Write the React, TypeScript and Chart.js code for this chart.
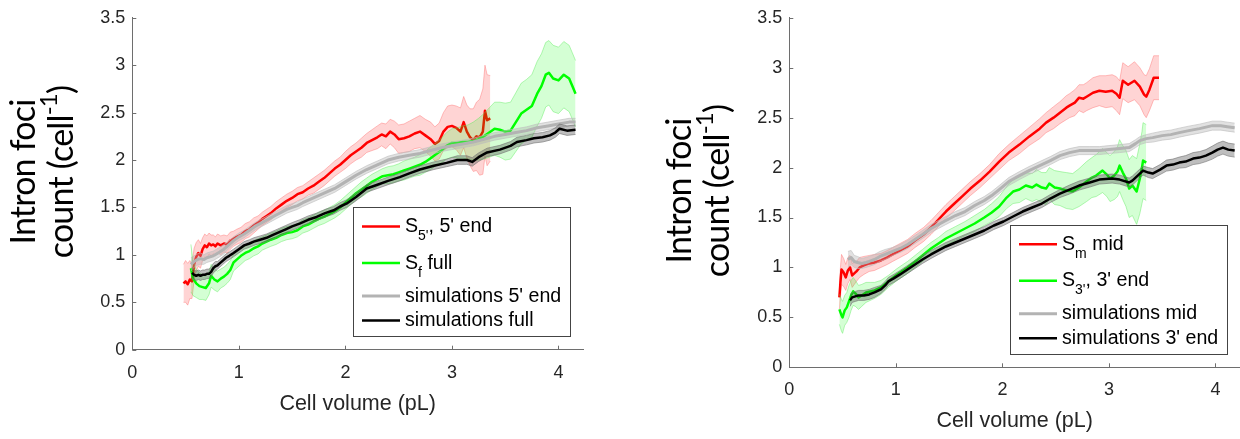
import React, { useEffect, useRef } from 'react';
import { Chart, registerables } from 'chart.js';
Chart.register(...registerables);

// ---------------- Left panel data ----------------
const L_RED_X = [0.48,0.50,0.52,0.54,0.56,0.58,0.60,0.62,0.64,0.66, 0.68,0.70,0.72,0.74,0.76,0.78,0.80,0.83,0.86,0.89, 0.92,0.95,0.98,1.02,1.06,1.10,1.14,1.18,1.22,1.26, 1.30,1.35,1.40,1.45,1.50,1.55,1.60,1.65,1.70,1.75, 1.80,1.85,1.90,1.95,2.00,2.05,2.10,2.15,2.20,2.25, 2.30,2.34,2.38,2.42,2.46,2.50,2.55,2.60,2.65,2.70, 2.75,2.80,2.84,2.88,2.92,2.96,3.00,3.04,3.08,3.11, 3.14,3.17,3.20,3.23,3.26,3.29,3.31,3.33,3.36];
const L_RED_Y = [0.70,0.72,0.69,0.74,0.72,0.90,0.98,1.02,0.99,1.06, 1.10,1.08,1.12,1.10,1.11,1.09,1.12,1.10,1.12,1.11, 1.15,1.17,1.19,1.21,1.25,1.27,1.31,1.34,1.38,1.41, 1.44,1.49,1.53,1.57,1.60,1.64,1.66,1.70,1.73,1.77, 1.81,1.86,1.91,1.95,2.00,2.05,2.09,2.13,2.18,2.21, 2.24,2.27,2.25,2.30,2.27,2.22,2.23,2.25,2.28,2.30, 2.26,2.22,2.17,2.20,2.30,2.35,2.36,2.34,2.30,2.40, 2.30,2.24,2.21,2.25,2.24,2.30,2.52,2.42,2.44];
const L_RED_E = [0.20,0.22,0.22,0.20,0.18,0.17,0.15,0.14,0.13,0.12, 0.12,0.12,0.11,0.11,0.10,0.10,0.10,0.10,0.09,0.09, 0.09,0.08,0.08,0.08,0.08,0.08,0.08,0.07,0.07,0.07, 0.07,0.07,0.07,0.07,0.07,0.07,0.07,0.07,0.08,0.08, 0.08,0.08,0.08,0.08,0.09,0.09,0.09,0.10,0.10,0.11, 0.12,0.12,0.13,0.13,0.14,0.15,0.15,0.16,0.16,0.17, 0.17,0.18,0.18,0.19,0.20,0.22,0.22,0.23,0.25,0.27, 0.28,0.30,0.33,0.36,0.40,0.45,0.48,0.48,0.45];

const L_GRN_X = [0.55,0.57,0.60,0.63,0.66,0.69,0.72,0.74,0.77,0.80, 0.83,0.86,0.89,0.92,0.95,0.98,1.02,1.06,1.10,1.14, 1.18,1.22,1.26,1.30,1.35,1.40,1.45,1.50,1.55,1.60, 1.65,1.70,1.75,1.80,1.85,1.90,1.95,2.00,2.05,2.10, 2.15,2.20,2.25,2.30,2.35,2.40,2.45,2.50,2.55,2.60, 2.65,2.70,2.75,2.80,2.85,2.90,2.95,3.00,3.05,3.10, 3.15,3.20,3.25,3.30,3.35,3.40,3.45,3.50,3.55,3.60, 3.65,3.70,3.75,3.80,3.84,3.88,3.91,3.95,4.00,4.05, 4.10,4.13,4.16];
const L_GRN_Y = [0.86,0.75,0.70,0.67,0.66,0.65,0.70,0.78,0.74,0.72, 0.75,0.77,0.80,0.84,0.92,0.95,0.99,1.02,1.04,1.07, 1.09,1.12,1.14,1.16,1.18,1.21,1.23,1.24,1.26,1.30, 1.32,1.35,1.38,1.40,1.43,1.46,1.50,1.55,1.60,1.65, 1.69,1.73,1.77,1.80,1.83,1.84,1.85,1.87,1.89,1.91, 1.93,1.95,1.98,2.02,2.06,2.10,2.15,2.18,2.18,2.19, 2.19,2.20,2.22,2.25,2.29,2.33,2.32,2.30,2.31,2.40, 2.49,2.53,2.57,2.70,2.78,2.90,2.92,2.86,2.84,2.90, 2.86,2.78,2.70];
const L_GRN_E = [0.25,0.18,0.15,0.14,0.13,0.13,0.12,0.12,0.11,0.11, 0.10,0.10,0.10,0.10,0.09,0.09,0.09,0.08,0.08,0.08, 0.08,0.07,0.07,0.07,0.07,0.07,0.07,0.07,0.07,0.07, 0.07,0.07,0.07,0.07,0.07,0.07,0.07,0.07,0.07,0.07, 0.08,0.08,0.08,0.08,0.08,0.09,0.09,0.09,0.10,0.10, 0.10,0.11,0.11,0.12,0.12,0.13,0.14,0.15,0.16,0.17, 0.18,0.20,0.22,0.24,0.26,0.28,0.29,0.30,0.30,0.31, 0.32,0.32,0.33,0.34,0.34,0.34,0.34,0.35,0.35,0.35, 0.35,0.35,0.35];

const L_GRAY_X = [0.55,0.58,0.61,0.64,0.67,0.70,0.73,0.76,0.79,0.82, 0.86,0.90,0.95,1.00,1.05,1.10,1.15,1.20,1.25,1.30, 1.35,1.40,1.45,1.50,1.55,1.60,1.70,1.80,1.90,2.00, 2.10,2.20,2.30,2.40,2.50,2.60,2.70,2.80,2.90,3.00, 3.10,3.20,3.30,3.40,3.50,3.60,3.70,3.80,3.90,4.00, 4.10,4.16];
const L_GRAY_Y = [0.90,0.93,0.95,0.96,0.95,0.97,0.98,0.99,1.01,1.03, 1.06,1.10,1.15,1.19,1.22,1.26,1.30,1.33,1.36,1.39, 1.42,1.45,1.48,1.50,1.52,1.55,1.60,1.65,1.70,1.77, 1.84,1.90,1.95,2.00,2.03,2.05,2.07,2.10,2.13,2.15, 2.17,2.19,2.22,2.25,2.27,2.29,2.31,2.34,2.36,2.38, 2.40,2.40];
const L_GRAY_E = [0.07,0.06,0.06,0.06,0.05,0.05,0.05,0.05,0.05,0.05, 0.05,0.04,0.04,0.04,0.04,0.04,0.04,0.04,0.04,0.04, 0.04,0.04,0.04,0.04,0.04,0.04,0.04,0.04,0.04,0.04, 0.04,0.04,0.04,0.04,0.04,0.04,0.04,0.04,0.04,0.04, 0.04,0.04,0.04,0.04,0.04,0.04,0.04,0.04,0.04,0.04, 0.04,0.04];

const L_BLK_X = [0.56,0.58,0.60,0.62,0.64,0.66,0.68,0.70,0.72,0.74, 0.76,0.78,0.80,0.82,0.85,0.88,0.91,0.95,1.00,1.05, 1.10,1.14,1.20,1.26,1.32,1.38,1.44,1.50,1.57,1.65, 1.73,1.81,1.89,1.95,2.01,2.10,2.20,2.30,2.40,2.51, 2.60,2.70,2.83,2.95,3.05,3.14,3.19,3.25,3.33,3.45, 3.55,3.61,3.70,3.77,3.85,3.92,3.97,4.01,4.08,4.16];
const L_BLK_Y = [0.81,0.79,0.78,0.79,0.78,0.79,0.79,0.80,0.80,0.82, 0.86,0.88,0.89,0.91,0.94,0.97,0.99,1.02,1.06,1.10, 1.12,1.14,1.16,1.18,1.21,1.24,1.27,1.30,1.33,1.37, 1.40,1.44,1.47,1.51,1.54,1.61,1.70,1.74,1.78,1.82, 1.86,1.90,1.94,1.97,2.00,2.00,1.98,2.03,2.08,2.11, 2.15,2.19,2.21,2.23,2.24,2.26,2.29,2.33,2.31,2.32];
const L_BLK_E = [0.06,0.05,0.05,0.05,0.05,0.05,0.05,0.05,0.05,0.05, 0.05,0.05,0.04,0.04,0.04,0.04,0.04,0.04,0.04,0.04, 0.04,0.04,0.04,0.04,0.04,0.04,0.04,0.04,0.04,0.04, 0.04,0.04,0.04,0.04,0.04,0.04,0.04,0.04,0.04,0.04, 0.04,0.04,0.04,0.04,0.045,0.045,0.045,0.045,0.045,0.045, 0.045,0.05,0.05,0.05,0.05,0.05,0.05,0.05,0.05,0.05];

// ---------------- Right panel data ----------------
const R_RED_X = [0.47,0.48,0.49,0.51,0.53,0.55,0.57,0.59,0.61,0.63, 0.66,0.70,0.75,0.80,0.86,0.92,0.97,1.04,1.11,1.18, 1.26,1.33,1.40,1.47,1.55,1.62,1.70,1.79,1.88,1.97, 2.06,2.16,2.25,2.35,2.41,2.48,2.54,2.60,2.63,2.68, 2.72,2.76,2.79,2.85,2.91,2.97,3.03,3.07,3.10,3.13, 3.18,3.24,3.29,3.33,3.35,3.38,3.42,3.47];
const R_RED_Y = [0.70,0.85,0.98,0.95,0.90,0.97,1.00,0.92,0.94,0.96, 1.00,1.02,1.04,1.05,1.07,1.10,1.13,1.17,1.21,1.27, 1.33,1.40,1.48,1.56,1.64,1.71,1.79,1.87,1.96,2.06, 2.15,2.23,2.31,2.39,2.45,2.50,2.55,2.60,2.62,2.65, 2.70,2.69,2.71,2.75,2.77,2.76,2.77,2.74,2.70,2.87, 2.83,2.87,2.81,2.73,2.71,2.78,2.90,2.90];
const R_RED_E = [0.12,0.15,0.15,0.14,0.13,0.13,0.12,0.12,0.11,0.10, 0.10,0.09,0.08,0.08,0.07,0.07,0.07,0.07,0.07,0.07, 0.07,0.07,0.07,0.07,0.07,0.07,0.07,0.07,0.07,0.08, 0.08,0.09,0.09,0.10,0.10,0.11,0.11,0.12,0.12,0.13, 0.13,0.14,0.14,0.15,0.15,0.16,0.16,0.17,0.17,0.18, 0.18,0.19,0.19,0.20,0.21,0.21,0.22,0.22];

const R_GRN_X = [0.47,0.49,0.50,0.52,0.54,0.56,0.58,0.60,0.62,0.65, 0.68,0.72,0.76,0.80,0.86,0.93,1.00,1.04,1.11,1.18, 1.25,1.33,1.40,1.47,1.56,1.65,1.74,1.83,1.90,1.97, 2.04,2.10,2.16,2.22,2.28,2.32,2.37,2.41,2.44,2.49, 2.54,2.60,2.66,2.72,2.79,2.84,2.88,2.94,2.98,3.01, 3.05,3.08,3.10,3.13,3.16,3.19,3.22,3.26,3.29,3.31, 3.32,3.35];
const R_GRN_Y = [0.58,0.52,0.50,0.57,0.60,0.66,0.72,0.76,0.74,0.70, 0.72,0.75,0.76,0.77,0.80,0.86,0.92,0.95,1.00,1.06, 1.12,1.19,1.24,1.29,1.34,1.39,1.44,1.50,1.55,1.61, 1.70,1.76,1.78,1.82,1.80,1.83,1.80,1.79,1.84,1.80, 1.79,1.77,1.76,1.80,1.86,1.90,1.92,1.97,1.93,1.89, 1.92,1.96,2.02,1.95,1.89,1.79,1.82,1.76,1.89,2.00, 2.07,2.05];
const R_GRN_E = [0.15,0.16,0.16,0.15,0.15,0.16,0.15,0.14,0.13,0.12, 0.11,0.10,0.09,0.08,0.07,0.06,0.06,0.06,0.06,0.06, 0.06,0.06,0.06,0.07,0.07,0.07,0.08,0.08,0.09,0.10, 0.11,0.12,0.13,0.13,0.14,0.15,0.15,0.16,0.16,0.17, 0.17,0.18,0.18,0.19,0.20,0.20,0.21,0.22,0.22,0.23, 0.24,0.25,0.26,0.27,0.28,0.29,0.30,0.33,0.35,0.36, 0.38,0.38];

const R_GRAY_X = [0.55,0.58,0.61,0.64,0.68,0.72,0.75,0.80,0.85,0.90, 0.97,1.04,1.11,1.18,1.25,1.33,1.40,1.47,1.56,1.65, 1.74,1.83,1.90,1.97,2.06,2.16,2.25,2.35,2.45,2.54, 2.63,2.72,2.82,2.91,3.00,3.10,3.19,3.25,3.29,3.35, 3.41,3.50,3.58,3.66,3.75,3.85,3.93,3.97,4.05,4.11, 4.18];
const R_GRAY_Y = [1.08,1.10,1.06,1.05,1.04,1.05,1.06,1.08,1.11,1.13, 1.16,1.19,1.23,1.28,1.33,1.39,1.43,1.47,1.52,1.56, 1.62,1.67,1.72,1.78,1.86,1.92,1.97,2.02,2.07,2.12, 2.15,2.17,2.17,2.17,2.18,2.19,2.20,2.24,2.27,2.29, 2.30,2.32,2.33,2.35,2.37,2.39,2.41,2.42,2.42,2.41, 2.40];
const R_GRAY_E = [0.08,0.07,0.06,0.06,0.05,0.05,0.05,0.05,0.05,0.05, 0.04,0.04,0.04,0.04,0.04,0.04,0.04,0.04,0.04,0.04, 0.04,0.04,0.04,0.04,0.04,0.04,0.04,0.04,0.04,0.04, 0.04,0.04,0.04,0.04,0.04,0.04,0.04,0.04,0.04,0.04, 0.045,0.045,0.045,0.045,0.045,0.045,0.045,0.045,0.045,0.045, 0.045];

const R_BLK_X = [0.57,0.59,0.62,0.65,0.70,0.75,0.80,0.86,0.90,0.93, 0.98,1.04,1.11,1.18,1.25,1.33,1.40,1.47,1.56,1.65, 1.74,1.83,1.92,2.01,2.10,2.19,2.28,2.37,2.45,2.54, 2.63,2.72,2.82,2.91,3.03,3.10,3.19,3.22,3.26,3.32, 3.37,3.41,3.48,3.54,3.60,3.66,3.72,3.79,3.85,3.91, 3.97,4.02,4.07,4.12,4.18];
const R_BLK_Y = [0.67,0.70,0.71,0.72,0.72,0.73,0.75,0.78,0.82,0.86, 0.89,0.93,0.98,1.03,1.08,1.13,1.17,1.21,1.25,1.29, 1.33,1.37,1.42,1.46,1.51,1.56,1.60,1.64,1.69,1.74, 1.78,1.82,1.85,1.88,1.89,1.88,1.85,1.87,1.91,1.97, 1.95,1.94,1.98,2.02,2.03,2.05,2.06,2.09,2.10,2.12, 2.15,2.18,2.20,2.18,2.17];
const R_BLK_E = [0.06,0.05,0.05,0.05,0.05,0.05,0.05,0.04,0.04,0.04, 0.04,0.04,0.04,0.04,0.04,0.04,0.04,0.04,0.04,0.04, 0.04,0.04,0.04,0.04,0.04,0.04,0.04,0.04,0.04,0.04, 0.045,0.045,0.045,0.045,0.045,0.045,0.045,0.045,0.045,0.045, 0.05,0.05,0.05,0.055,0.055,0.055,0.06,0.06,0.06,0.06, 0.065,0.065,0.065,0.065,0.065];

// ---------------- Axes / labels ----------------
const X_MIN = 0;
const X_MAX = 4.23;
const X_STEP = 1;
const Y_MIN = 0;
const Y_MAX = 3.5;
const Y_STEP = 0.5;
const X_TITLE = 'Cell volume (pL)';
const Y_TITLE_1 = 'Intron foci';
const Y_TITLE_2 = 'count (cell';
const Y_TITLE_SUP = '-1';
const Y_TITLE_3 = ')';

type Part = [string, ('sub' | 'sup')?];
const LEFT_LEGEND: Part[][] = [
  [['S'], ["5'", 'sub'], [", 5' end"]],
  [['S'], ['f', 'sub'], [' full']],
  [["simulations 5' end"]],
  [['simulations full']],
];
const RIGHT_LEGEND: Part[][] = [
  [['S'], ['m', 'sub'], [' mid']],
  [['S'], ["3'", 'sub'], [", 3' end"]],
  [['simulations mid']],
  [["simulations 3' end"]],
];

// ---------------- Styles ----------------
const FONT = '"Liberation Sans", Arial, Helvetica, sans-serif';
const TITLE_FONT = 'Lato, "Open Sans", sans-serif';
const TEXT = '#262626';
const AXIS = '#6e6e6e';

const STYLE = {
  red: { color: '#ff0000', band: 'rgba(255,0,0,0.17)', edge: 'rgba(255,110,110,0.55)', width: 2.5 },
  green: { color: '#00ff00', band: 'rgba(0,255,0,0.17)', edge: 'rgba(90,235,90,0.55)', width: 2.5 },
  gray: { color: '#b3b3b3', band: 'rgba(170,170,170,0.35)', edge: 'rgba(190,190,190,0.8)', width: 3 },
  black: { color: '#000000', band: 'rgba(70,70,70,0.35)', edge: 'rgba(120,120,120,0.8)', width: 2.5 },
};
const LEGEND_COLORS = [STYLE.red, STYLE.green, STYLE.gray, STYLE.black];

type Series = { xs: number[]; ys: number[]; err: number[]; st: { color: string; band: string; edge: string; width: number } };

function makeDatasets(list: Series[]) {
  const ds: any[] = [];
  let order = list.length * 2;
  list.forEach((s) => {
    const bandOrder = order--;
    const lineOrder = order--;
    ds.push({ data: s.xs.map((x, i) => ({ x, y: s.ys[i] + s.err[i] })), borderColor: s.st.edge, borderWidth: 0.8, pointRadius: 0, fill: false, order: bandOrder, tension: 0 });
    ds.push({ data: s.xs.map((x, i) => ({ x, y: s.ys[i] - s.err[i] })), borderColor: s.st.edge, borderWidth: 0.8, pointRadius: 0, backgroundColor: s.st.band, fill: '-1', order: bandOrder, tension: 0 });
    ds.push({ data: s.xs.map((x, i) => ({ x, y: s.ys[i] })), borderColor: s.st.color, borderWidth: s.st.width, pointRadius: 0, fill: false, order: lineOrder, tension: 0, borderJoinStyle: 'round' });
  });
  return ds;
}

type PanelCfg = {
  series: Series[];
  legend: Part[][];
  padTop: number;
  padRight: number;
  xAxisH: number;
  xTickPad: number;
  xTitlePadBottom: number;
  titleX1: number;
  titleX2: number;
  titleYc: number;
};

function drawParts(ctx: CanvasRenderingContext2D, parts: Part[], x0: number, y: number, size: number, fam: string, center: boolean, spacing = 0) {
  const small = Math.round(size * 0.72);
  (ctx as any).letterSpacing = `${spacing}px`;
  const widths = parts.map(([t, k]) => {
    ctx.font = `${k ? small : size}px ${fam}`;
    return ctx.measureText(t).width;
  });
  const total = widths.reduce((a, b) => a + b, 0);
  let x = center ? x0 - total / 2 : x0;
  parts.forEach(([t, k], i) => {
    ctx.font = `${k ? small : size}px ${fam}`;
    const dy = k === 'sub' ? size * 0.5 : k === 'sup' ? -size * 0.36 : 0;
    ctx.fillText(t, x, y + dy);
    x += widths[i];
  });
  (ctx as any).letterSpacing = '0px';
}

function makePlugin(cfg: PanelCfg) {
  return {
    id: 'decor',
    afterDraw(chart: any) {
      const ctx: CanvasRenderingContext2D = chart.ctx;
      const ca = chart.chartArea;
      const xs = chart.scales.x;
      const ys = chart.scales.y;
      ctx.save();
      // inward tick marks
      ctx.strokeStyle = AXIS;
      ctx.lineWidth = 1;
      ctx.beginPath();
      xs.ticks.forEach((t: any) => {
        const px = Math.round(xs.getPixelForValue(t.value)) + 0.5;
        ctx.moveTo(px, ca.bottom);
        ctx.lineTo(px, ca.bottom - 4);
      });
      ys.ticks.forEach((t: any) => {
        const py = Math.round(ys.getPixelForValue(t.value)) + 0.5;
        ctx.moveTo(ca.left, py);
        ctx.lineTo(ca.left + 4, py);
      });
      ctx.stroke();

      // legend
      const bl = ca.left + 221;
      const br = ca.left + 437.8;
      const bb = ca.bottom - 13.2;
      const bt = bb - 129.4;
      ctx.fillStyle = '#ffffff';
      ctx.fillRect(bl, bt, br - bl, bb - bt);
      ctx.strokeStyle = '#444444';
      ctx.lineWidth = 1;
      ctx.strokeRect(Math.round(bl) + 0.5, Math.round(bt) + 0.5, Math.round(br - bl), Math.round(bb - bt));
      const rows = [19.5, 56, 89, 113.5];
      cfg.legend.forEach((parts, i) => {
        const y = bt + rows[i];
        const st = LEGEND_COLORS[i];
        ctx.strokeStyle = st.color;
        ctx.lineWidth = st.width;
        ctx.beginPath();
        ctx.moveTo(bl + 8.7, y);
        ctx.lineTo(bl + 46.7, y);
        ctx.stroke();
        ctx.fillStyle = '#000000';
        ctx.textBaseline = 'middle';
        ctx.textAlign = 'left';
        drawParts(ctx, parts, bl + 51.7, y, 19.6, FONT, false);
      });

      // y title (two lines, rotated)
      ctx.fillStyle = '#000000';
      ctx.textBaseline = 'middle';
      ctx.textAlign = 'left';
      ctx.save();
      ctx.translate(cfg.titleX1, cfg.titleYc);
      ctx.rotate(-Math.PI / 2);
      drawParts(ctx, [[Y_TITLE_1]], 0, 0, 34, TITLE_FONT, true, -0.8);
      ctx.restore();
      ctx.save();
      ctx.translate(cfg.titleX2, cfg.titleYc);
      ctx.rotate(-Math.PI / 2);
      drawParts(ctx, [[Y_TITLE_2], [Y_TITLE_SUP, 'sup'], [Y_TITLE_3]], 0, 0, 34, TITLE_FONT, true, -0.8);
      ctx.restore();
      ctx.restore();
    },
  };
}

function Panel({ cfg, left, width }: { cfg: PanelCfg; left: number; width: number }) {
  const ref = useRef<HTMLCanvasElement>(null);
  useEffect(() => {
    if (!ref.current) return;
    const chart = new Chart(ref.current, {
      type: 'line',
      data: { datasets: makeDatasets(cfg.series) },
      options: {
        animation: false,
        responsive: false,
        maintainAspectRatio: false,
        devicePixelRatio: 1,
        events: [],
        layout: { padding: { top: cfg.padTop, right: cfg.padRight, left: 0, bottom: 0 } },
        plugins: { legend: { display: false }, tooltip: { enabled: false }, title: { display: false } },
        scales: {
          x: {
            type: 'linear',
            min: X_MIN,
            max: X_MAX,
            afterFit: (s: any) => { s.height = cfg.xAxisH; },
            grid: { display: false, drawTicks: false, tickLength: 0 },
            border: { display: true, color: AXIS, width: 1 },
            ticks: { stepSize: X_STEP, includeBounds: false, padding: cfg.xTickPad, color: TEXT, font: { family: FONT, size: 18 }, maxRotation: 0, autoSkip: false, callback: (v: any) => String(v) },
            title: { display: true, text: X_TITLE, color: TEXT, font: { family: FONT, size: 21.5 }, padding: { top: 0, bottom: cfg.xTitlePadBottom } },
          },
          y: {
            type: 'linear',
            min: Y_MIN,
            max: Y_MAX,
            afterFit: (s: any) => { s.width = 132.3; },
            grid: { display: false, drawTicks: false, tickLength: 0 },
            border: { display: true, color: AXIS, width: 1 },
            ticks: { stepSize: Y_STEP, padding: 7, color: TEXT, font: { family: FONT, size: 18 }, callback: (v: any) => String(v) },
          },
        },
      },
      plugins: [makePlugin(cfg)],
    } as any);
    return () => chart.destroy();
  }, []);
  return (
    <canvas ref={ref} width={width} height={439} style={{ position: 'absolute', left, top: 0, width, height: 439 }} />
  );
}

const LEFT_CFG: PanelCfg = {
  series: [
    { xs: L_RED_X, ys: L_RED_Y, err: L_RED_E, st: STYLE.red },
    { xs: L_GRN_X, ys: L_GRN_Y, err: L_GRN_E, st: STYLE.green },
    { xs: L_GRAY_X, ys: L_GRAY_Y, err: L_GRAY_E, st: STYLE.gray },
    { xs: L_BLK_X, ys: L_BLK_Y, err: L_BLK_E, st: STYLE.black },
  ],
  legend: LEFT_LEGEND,
  padTop: 12.7,
  padRight: 37,
  xAxisH: 89.3,
  xTickPad: 13,
  xTitlePadBottom: 22.5,
  titleX1: 24,
  titleX2: 62,
  titleYc: 172,
};

const RIGHT_CFG: PanelCfg = {
  series: [
    { xs: R_RED_X, ys: R_RED_Y, err: R_RED_E, st: STYLE.red },
    { xs: R_GRN_X, ys: R_GRN_Y, err: R_GRN_E, st: STYLE.green },
    { xs: R_GRAY_X, ys: R_GRAY_Y, err: R_GRAY_E, st: STYLE.gray },
    { xs: R_BLK_X, ys: R_BLK_Y, err: R_BLK_E, st: STYLE.black },
  ],
  legend: RIGHT_LEGEND,
  padTop: 14.3,
  padRight: 0,
  xAxisH: 71.7,
  xTickPad: 12,
  xTitlePadBottom: 5.5,
  titleX1: 23,
  titleX2: 61,
  titleYc: 191,
};

export default function App() {
  return (
    <div style={{ position: 'absolute', left: 0, top: 0, width: 1240, height: 439, background: '#ffffff', overflow: 'hidden' }}>
      <Panel cfg={LEFT_CFG} left={0} width={620} />
      <Panel cfg={RIGHT_CFG} left={657} width={583} />
    </div>
  );
}
